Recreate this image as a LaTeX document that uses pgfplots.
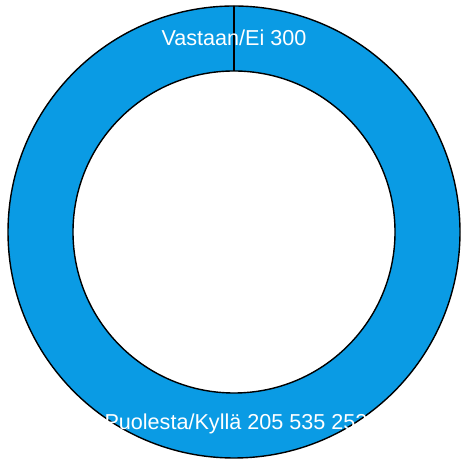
\documentclass[border=0pt]{standalone}
\usepackage{pgfplots}
\usepackage{pgfplotstable}
\pgfplotsset{compat=1.18}
\usepackage{fontspec}
\setmainfont{Liberation Sans}
\definecolor{slice}{RGB}{10,155,228}

\pgfplotstableread[col sep=comma]{
label,value
Vastaan/Ei,300
Puolesta/Kyllä,205535252
}\votes

\begin{document}
\begin{tikzpicture}
\pgfplotstablegetelem{0}{value}\of\votes \let\vEi\pgfplotsretval
\pgfplotstablegetelem{1}{value}\of\votes \let\vKylla\pgfplotsretval
% slices go clockwise from the top; big numbers need fpu
\pgfkeys{/pgf/fpu=true, /pgf/fpu/output format=fixed}
\pgfmathsetmacro{\aB}{90-360*\vEi/(\vEi+\vKylla)}
\pgfkeys{/pgf/fpu=false}
\def\aA{90}
\def\aC{-270}
\begin{axis}[
    scale only axis,
    width=230.5pt, height=232pt,
    xmin=0, xmax=461, ymin=0, ymax=464,
    hide axis,
    clip=false
]
% keep the whole frame in the picture
\path (axis cs:0,0) rectangle (axis cs:461,464);
% radii (1 axis unit = 0.5pt)
\def\Ro{113pt}
\def\Ri{80.5pt}
\fill[slice, draw=black, line width=0.7pt]
    (axis cs:234,232) ++(\aB:\Ro) arc[start angle=\aB, end angle=\aC, radius=\Ro]
    -- ([shift={(\aC:\Ri)}]axis cs:234,232)
    arc[start angle=\aC, end angle=\aB, radius=\Ri] -- cycle;
\fill[slice, draw=black, line width=0.7pt]
    (axis cs:234,232) ++(\aA:\Ro) arc[start angle=\aA, end angle=\aB, radius=\Ro]
    -- ([shift={(\aB:\Ri)}]axis cs:234,232)
    arc[start angle=\aB, end angle=\aA, radius=\Ri] -- cycle;
\draw[black, line width=0.9pt] ([shift={(90:\Ri)}]axis cs:234,232) -- ([shift={(90:\Ro)}]axis cs:234,232);
\node[white, font=\fontsize{10.8}{12}\selectfont] at (axis cs:234,426) {Vastaan/Ei 300};
\node[white, font=\fontsize{10.8}{12}\selectfont] at (axis cs:236,40) {Puolesta/Kyllä 205 535 252};
\end{axis}
\end{tikzpicture}
\end{document}
